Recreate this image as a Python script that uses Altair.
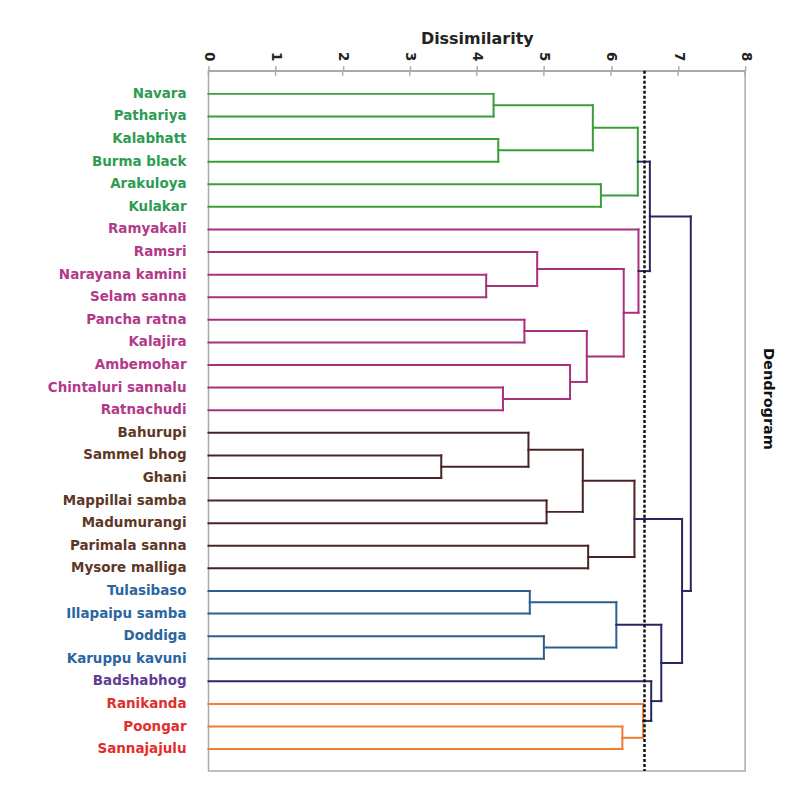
import altair as alt
import pandas as pd

# ---- data -------------------------------------------------------------
leaves = [
    "Navara", "Pathariya", "Kalabhatt", "Burma black", "Arakuloya", "Kulakar",
    "Ramyakali", "Ramsri", "Narayana kamini", "Selam sanna", "Pancha ratna",
    "Kalajira", "Ambemohar", "Chintaluri sannalu", "Ratnachudi",
    "Bahurupi", "Sammel bhog", "Ghani", "Mappillai samba", "Madumurangi",
    "Parimala sanna", "Mysore malliga",
    "Tulasibaso", "Illapaipu samba", "Doddiga", "Karuppu kavuni",
    "Badshabhog", "Ranikanda", "Poongar", "Sannajajulu",
]
label_group = (["g"] * 6 + ["m"] * 9 + ["b"] * 7 + ["u"] * 4 + ["p"] + ["r"] * 3)

# merges (node ids 30.. in order); leaves are 0..29
merge_left = [0, 2, 30, 4, 32, 8, 7, 10, 13, 12, 37, 36, 6, 34,
              16, 15, 18, 45, 20, 47, 22, 24, 50, 28, 27, 26, 52, 49, 43]
merge_right = [1, 3, 31, 5, 33, 9, 35, 11, 14, 38, 39, 40, 41, 42,
               17, 44, 19, 46, 21, 48, 23, 25, 51, 29, 53, 54, 55, 56, 57]
merge_height = [4.25, 4.32, 5.73, 5.85, 6.40, 4.14, 4.90, 4.71, 4.39, 5.39,
                5.64, 6.19, 6.41, 6.58, 3.47, 4.77, 5.04, 5.58, 5.66, 6.35,
                4.79, 5.00, 6.08, 6.17, 6.48, 6.60, 6.75, 7.06, 7.19]
merge_group = ["green"] * 5 + ["magenta"] * 8 + ["navy"] + ["brown"] * 6 + \
              ["blue"] * 3 + ["orange"] * 2 + ["navy"] * 4
cut_height = [6.5]
tick_values = [0, 1, 2, 3, 4, 5, 6, 7, 8]

# ---- build segments ---------------------------------------------------
ypos = {i: float(i) for i in range(len(leaves))}
hpos = {i: 0.0 for i in range(len(leaves))}
rows = []
for k, (a, b, h, g) in enumerate(zip(merge_left, merge_right, merge_height, merge_group)):
    node = len(leaves) + k
    rows.append({"x": h, "x2": h, "y": ypos[a], "y2": ypos[b], "grp": g})
    rows.append({"x": hpos[a], "x2": h, "y": ypos[a], "y2": ypos[a], "grp": g})
    rows.append({"x": hpos[b], "x2": h, "y": ypos[b], "y2": ypos[b], "grp": g})
    ypos[node] = (ypos[a] + ypos[b]) / 2
    hpos[node] = h
seg = pd.DataFrame(rows)
labels = pd.DataFrame({"name": leaves, "idx": list(range(len(leaves))), "lg": label_group})

FONT = "DejaVu Sans"
xscale = alt.Scale(domain=[0, 8], nice=False, zero=False)
yscale = alt.Scale(domain=[-1.02, 29.97], reverse=True, nice=False, zero=False)
xaxis = alt.Axis(orient="top", values=tick_values, labelAngle=90, grid=False,
                 tickSize=5, tickColor="#aaaaaa", tickWidth=1.5, domainColor="#aaaaaa",
                 domainWidth=1.5, labelPadding=5, labelFont=FONT, labelFontSize=13.5,
                 labelFontWeight="bold", labelColor="#222222",
                 title="Dissimilarity", titleFont=FONT, titleFontSize=16,
                 titleFontWeight="bold", titleColor="#222222", titlePadding=5)

links = alt.Chart(seg).mark_rule(strokeWidth=2, strokeCap="square").encode(
    x=alt.X("x:Q", scale=xscale, axis=xaxis),
    x2="x2:Q",
    y=alt.Y("y:Q", scale=yscale, axis=None),
    y2="y2:Q",
    color=alt.Color("grp:N", legend=None, scale=alt.Scale(
        domain=["green", "magenta", "brown", "blue", "orange", "navy"],
        range=["#3a9e3a", "#a8307c", "#4a2424", "#2f5e8e", "#ef7d32", "#27285f"])),
)

# inner half of the axis ticks (reference ticks cross the axis line)
inner_ticks = alt.Chart(pd.DataFrame({"t": tick_values})).mark_rule(
    color="#aaaaaa", strokeWidth=1.5).encode(
    x=alt.X("t:Q", scale=xscale, axis=xaxis), y=alt.value(0), y2=alt.value(5))

cut = alt.Chart(pd.DataFrame({"c": cut_height})).mark_rule(
    strokeDash=[3, 2], strokeWidth=2.5, color="#111111").encode(
    x=alt.X("c:Q", scale=xscale, axis=xaxis))

text = alt.Chart(labels).mark_text(
    align="right", baseline="middle", font=FONT, fontWeight="bold", fontSize=13.5
).encode(
    x=alt.value(-22),
    y=alt.Y("idx:Q", scale=yscale, axis=None),
    text="name:N",
    color=alt.Color("lg:N", legend=None, scale=alt.Scale(
        domain=["g", "m", "b", "u", "p", "r"],
        range=["#2e9c52", "#b23a8a", "#5e3826", "#2c66a0", "#5f3c92", "#e0302c"])),
)

side = alt.Chart(pd.DataFrame({"t": ["Dendrogram"]})).mark_text(
    angle=90, align="center", baseline="middle", font=FONT, fontWeight="bold",
    fontSize=14.5, color="#111111"
).encode(x=alt.value(561), y=alt.value(329), text="t:N")

chart = alt.layer(links, inner_ticks, cut, text, side).resolve_scale(color="independent").properties(
    width=538, height=702,
    autosize=alt.AutoSizeParams(type="none"),
    padding={"left": 201, "top": 62, "right": 45, "bottom": 10},
    background="white",
).configure_view(stroke="#aaaaaa", strokeWidth=1.5)

chart.save("out.html", embed_options={"renderer": "svg", "actions": False})
